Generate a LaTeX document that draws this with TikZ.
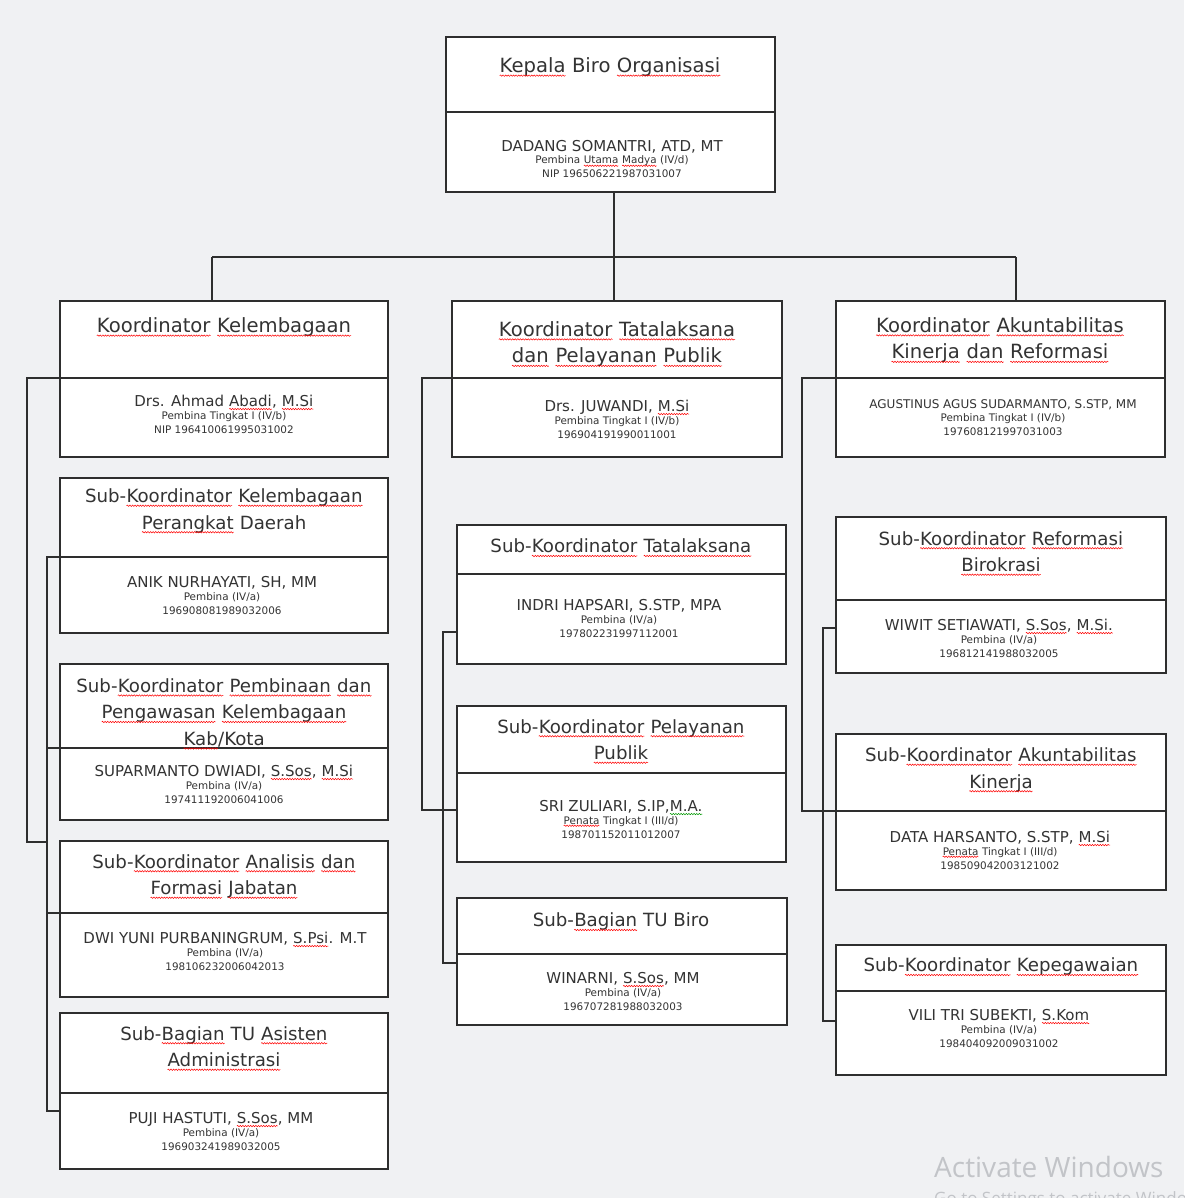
\documentclass[tikz,border=0pt]{standalone}
\usepackage{fontspec}
\setmainfont{DejaVu Sans}
\newfontfamily\wmfont{Open Sans}
\usetikzlibrary{decorations.pathmorphing}
\definecolor{bg}{HTML}{F0F1F3}
\definecolor{ink}{HTML}{2E2E2E}
\definecolor{txt}{HTML}{333333}
\definecolor{wm}{HTML}{C2C4C8}
\tikzset{
 box/.style={draw=ink, line width=1.5pt, fill=white, rectangle, inner sep=0pt},
 divline/.style={draw=ink, line width=1.5pt},
 conn/.style={draw=ink, line width=1.5pt},
 ttl/.style={align=center, text=txt, inner sep=0pt, font=\fontsize{18.2}{26.5}\selectfont},
 ttlb/.style={ttl, font=\fontsize{19.6}{26.5}\selectfont},
 nm/.style={text=txt, inner sep=0pt, font=\fontsize{15}{18}\selectfont},
 sm/.style={text=txt, inner sep=0pt, font=\fontsize{10.4}{12}\selectfont},
 sqline/.style={line width=0.5pt, decorate, decoration={snake, amplitude=0.7pt, segment length=2.6pt}},
 wmark/.style={text=wm, inner sep=0pt, anchor=base west},
}
\newcommand\wavy[2]{\tikz[baseline=0pt]{\node[inner sep=0pt,outer sep=0pt,anchor=base,text=txt,draw=none,fill=none] (w) at (0,0) {#2};\draw[sqline,draw=#1] ([yshift=-0.17em]w.base west) -- ([yshift=-0.17em]w.base east);}}
\newcommand\sq[1]{\wavy{red}{#1}}
\newcommand\sqg[1]{\wavy{green!60!black}{#1}}
\newcommand\obox[6]{%
 \node[box, minimum width={#4-#2}, minimum height={#5-#3}] (#1) at ({(#2+#4)/2},{(#3+#5)/2}) {};
 \draw[divline] (#2,#6) -- (#4,#6);}
\newcommand\person[7][]{%
 \node[nm, anchor=base, #1] (#2n) at (#3,{#4+5.5}) {#5};
 \node[sm, anchor=base] (#2g) at (#3,{#4+18}) {#6};
 \node[sm, anchor=base] (#2i) at (#3,{#4+32}) {#7};}
\begin{document}
\begin{tikzpicture}[x=1pt,y=-1pt]
\useasboundingbox (0,0) rectangle (1184,1198);
\fill[bg] (0,0) rectangle (1184,1198);

% ---- boxes ----
\obox{top}{446}{37}{775}{192}{112}
\obox{K1}{60}{301}{388}{457}{378}
\obox{K2}{452}{301}{782}{457}{378}
\obox{K3}{836}{301}{1165}{457}{378}
\obox{S1}{60}{478}{388}{633}{557}
\obox{S2}{60}{664}{388}{820}{748}
\obox{S3}{60}{841}{388}{997}{913}
\obox{S4}{60}{1013}{388}{1169}{1093}
\obox{M1}{457}{525}{786}{664}{574}
\obox{M2}{457}{706}{786}{862}{773}
\obox{M3}{457}{898}{787}{1025}{954}
\obox{R1}{836}{517}{1166}{673}{600}
\obox{R2}{836}{734}{1166}{890}{811}
\obox{R3}{836}{945}{1166}{1075}{991}

% ---- titles ----
\node[ttlb] (topt) at (610,67) {\sq{Kepala} Biro \sq{Organisasi}};
\node[ttlb] (K1t) at (224,327) {\sq{Koordinator} \sq{Kelembagaan}};
\node[ttlb] (K2t) at (617,344) {\sq{Koordinator} \sq{Tatalaksana}\\\sq{dan} \sq{Pelayanan} \sq{Publik}};
\node[ttlb] (K3t) at (1000,340) {\sq{Koordinator} \sq{Akuntabilitas}\\\sq{Kinerja} \sq{dan} \sq{Reformasi}};
\node[ttl] (S1t) at (224,511) {Sub-\sq{Koordinator} \sq{Kelembagaan}\\\sq{Perangkat} Daerah};
\node[ttl] (S2t) at (224,714) {Sub-\sq{Koordinator} \sq{Pembinaan} \sq{dan}\\\sq{Pengawasan} \sq{Kelembagaan}\\\sq{Kab}/Kota};
\node[ttl] (S3t) at (224,876.5) {Sub-\sq{Koordinator} \sq{Analisis} \sq{dan}\\\sq{Formasi} \sq{Jabatan}};
\node[ttl] (S4t) at (224,1048.5) {Sub-\sq{Bagian} TU \sq{Asisten}\\\sq{Administrasi}};
\node[ttl] (M1t) at (621,548) {Sub-\sq{Koordinator} \sq{Tatalaksana}};
\node[ttl] (M2t) at (621,741.5) {Sub-\sq{Koordinator} \sq{Pelayanan}\\\sq{Publik}};
\node[ttl] (M3t) at (621,922) {Sub-\sq{Bagian} TU Biro};
\node[ttl] (R1t) at (1001,553.5) {Sub-\sq{Koordinator} \sq{Reformasi}\\\sq{Birokrasi}};
\node[ttl] (R2t) at (1001,770) {Sub-\sq{Koordinator} \sq{Akuntabilitas}\\\sq{Kinerja}};
\node[ttl] (R3t) at (1001,967) {Sub-\sq{Koordinator} \sq{Kepegawaian}};

% ---- persons ----
\person{topp}{612}{146}{DADANG SOMANTRI, ATD, MT}{Pembina \sq{Utama} \sq{Madya} (IV/d)}{NIP 196506221987031007}
\person{K1p}{224}{401}{Drs. Ahmad \sq{Abadi}, \sq{M.Si}}{Pembina Tingkat I (IV/b)}{NIP 196410061995031002}
\person{K2p}{617}{406}{Drs. JUWANDI, \sq{M.Si}}{Pembina Tingkat I (IV/b)}{196904191990011001}
\person[font=\fontsize{12}{14}\selectfont]{K3p}{1003}{403}{AGUSTINUS AGUS SUDARMANTO, S.STP, MM}{Pembina Tingkat I (IV/b)}{197608121997031003}
\person{S1p}{222}{582}{ANIK NURHAYATI, SH, MM}{Pembina (IV/a)}{196908081989032006}
\person{S2p}{224}{771}{SUPARMANTO DWIADI, \sq{S.Sos}, \sq{M.Si}}{Pembina (IV/a)}{197411192006041006}
\person{S3p}{225}{938}{DWI YUNI PURBANINGRUM, \sq{S.Psi}. M.T}{Pembina (IV/a)}{198106232006042013}
\person{S4p}{221}{1118}{PUJI HASTUTI, \sq{S.Sos}, MM}{Pembina (IV/a)}{196903241989032005}
\person{M1p}{619}{605}{INDRI HAPSARI, S.STP, MPA}{Pembina (IV/a)}{197802231997112001}
\person{M2p}{621}{806}{SRI ZULIARI, S.IP,\sqg{M.A.}}{\sq{Penata} Tingkat I (III/d)}{198701152011012007}
\person{M3p}{623}{978}{WINARNI, \sq{S.Sos}, MM}{Pembina (IV/a)}{196707281988032003}
\person{R1p}{999}{625}{WIWIT SETIAWATI, \sq{S.Sos}, \sq{M.Si.}}{Pembina (IV/a)}{196812141988032005}
\person{R2p}{1000}{837}{DATA HARSANTO, S.STP, \sq{M.Si}}{\sq{Penata} Tingkat I (III/d)}{198509042003121002}
\person{R3p}{999}{1015}{VILI TRI SUBEKTI, \sq{S.Kom}}{Pembina (IV/a)}{198404092009031002}

% ---- connectors ----
\coordinate (bus1) at (212,257);
\coordinate (bus2) at (614,257);
\coordinate (bus3) at (1016,257);
\draw[conn] (top.south -| bus2) -- (bus2);
\draw[conn] (bus1) -- (bus3);
\draw[conn] (bus1) -- (bus1 |- K1.north);
\draw[conn] (bus2) -- (bus2 |- K2.north);
\draw[conn] (bus3) -- (bus3 |- K3.north);

\coordinate (la) at (27,378); \coordinate (lb) at (27,842); \coordinate (lc) at (47,842);
\draw[conn] (K1.west |- la) -- (la) -- (lb) -- (lc);
\coordinate (li1) at (47,557); \coordinate (li2) at (47,748);
\coordinate (li3) at (47,913); \coordinate (li4) at (47,1111);
\draw[conn] (S1.west |- li1) -- (li1) -- (li4) -- (S4.west |- li4);
\draw[conn] (li2) -- (S2.west |- li2);
\draw[conn] (li3) -- (S3.west |- li3);

\coordinate (ma) at (422,378); \coordinate (mb) at (422,810);
\draw[conn] (K2.west |- ma) -- (ma) -- (mb) -- (M2.west |- mb);
\coordinate (mi1) at (443,632); \coordinate (mi3) at (443,963);
\draw[conn] (M1.west |- mi1) -- (mi1) -- (mi3) -- (M3.west |- mi3);

\coordinate (ra) at (802,378); \coordinate (rb) at (802,811);
\draw[conn] (K3.west |- ra) -- (ra) -- (rb) -- (R2.west |- rb);
\coordinate (ri1) at (823,628); \coordinate (ri3) at (823,1021);
\draw[conn] (R1.west |- ri1) -- (ri1) -- (ri3) -- (R3.west |- ri3);

% ---- watermark ----
\node[wmark, font=\wmfont\fontsize{28}{32}\selectfont] (wm1) at (934,1177) {Activate Windows};
\node[wmark, font=\wmfont\fontsize{17}{20}\selectfont] (wm2) at (934,1204) {Go to Settings to activate Windows.};
\end{tikzpicture}
\end{document}
